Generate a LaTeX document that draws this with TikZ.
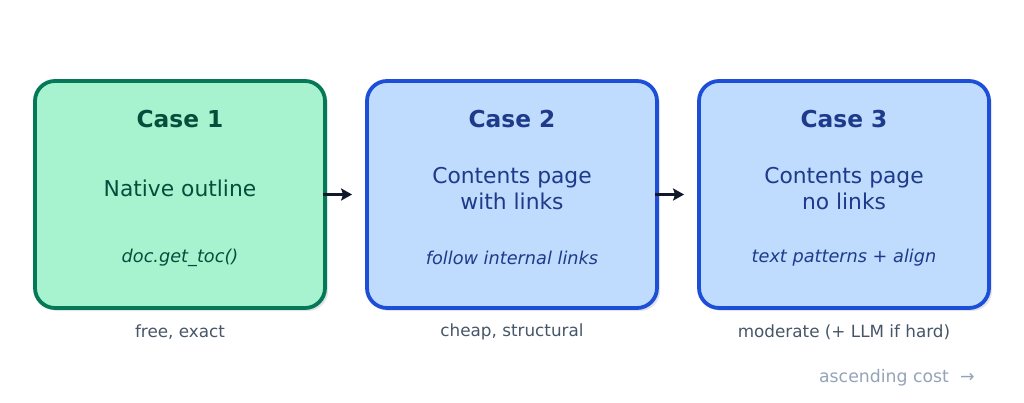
\documentclass[tikz,border=0pt]{standalone}
\usepackage{fontspec}
\setmainfont{DejaVu Sans}
\usetikzlibrary{arrows.meta}
\definecolor{gfill}{HTML}{A7F3D0}
\definecolor{gline}{HTML}{047857}
\definecolor{gtext}{HTML}{064E3B}
\definecolor{bfill}{HTML}{BFDBFE}
\definecolor{bline}{HTML}{1D4ED8}
\definecolor{btext}{HTML}{1E3A8A}
\definecolor{sub}{HTML}{475569}
\definecolor{faint}{HTML}{94A3B8}
\definecolor{arr}{HTML}{111827}
\definecolor{shade}{HTML}{E2E4E8}
\tikzset{
  casebox/.style={rectangle, rounded corners=20pt, line width=3.8pt, minimum width=290pt, minimum height=227pt, inner sep=0pt},
  greenbox/.style={casebox, draw=gline, fill=gfill},
  bluebox/.style={casebox, draw=bline, fill=bfill},
  shadowbox/.style={rectangle, rounded corners=20pt, fill=shade, minimum width=290pt, minimum height=227pt, inner sep=0pt},
  title/.style={font=\fontsize{23.3}{27}\selectfont\bfseries},
  mid/.style={font=\fontsize{21.8}{26}\selectfont, align=center},
  code/.style={font=\fontsize{17.7}{21}\selectfont\itshape},
  lbl/.style={font=\fontsize{16.8}{20}\selectfont, text=sub},
  flow/.style={draw=arr, line width=3.6pt, -{Stealth[length=11pt,width=12pt,inset=2pt]}, shorten >=13pt}
}
\begin{document}
\begin{tikzpicture}[x=1pt,y=1pt]
\useasboundingbox (0,0) rectangle (1024,402);
% shadows
\node[shadowbox] at (183,204.5) {};
\node[shadowbox] at (515,204.5) {};
\node[shadowbox] at (847,204.5) {};
% boxes
\node[greenbox] (b1) at (180,207.5) {};
\node[bluebox] (b2) at (512,207.5) {};
\node[bluebox] (b3) at (844,207.5) {};
% texts box 1
\node[title, text=gtext] (t1) at (180,283) {Case 1};
\node[mid, text=gtext] (m1) at (180,213.5) {Native outline};
\node[code, text=gtext] (c1) at (180,144.5) {doc.get\_toc()};
% texts box 2
\node[title, text=btext] (t2) at (512,283) {Case 2};
\node[mid, text=btext] (m2) at (512,213.5) {Contents page\\with links};
\node[code, text=btext] (c2) at (512,144.5) {follow internal links};
% texts box 3
\node[title, text=btext] (t3) at (844,283) {Case 3};
\node[mid, text=btext] (m3) at (844,213.5) {Contents page\\no links};
\node[code, text=btext] (c3) at (844,144.5) {text patterns + align};
% labels
\node[lbl] (l1) at (180,70) {free, exact};
\node[lbl] (l2) at (512,70) {cheap, structural};
\node[lbl] (l3) at (844,70) {moderate (+ LLM if hard)};
\node[font=\fontsize{17.3}{20}\selectfont, text=faint, anchor=east] (asc) at (978,24.5) {ascending cost~~→};
% arrows
\draw[flow] ([xshift=-4pt]b1.east) -- (b2.west);
\draw[flow] ([xshift=-4pt]b2.east) -- (b3.west);
\end{tikzpicture}
\end{document}
